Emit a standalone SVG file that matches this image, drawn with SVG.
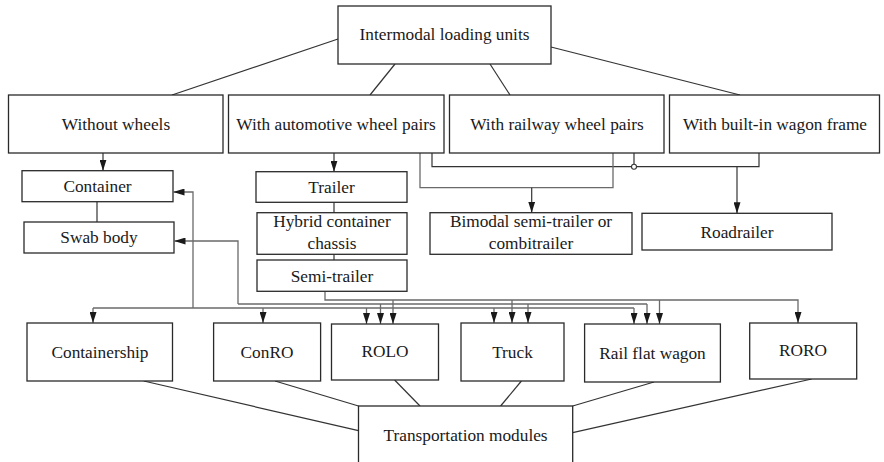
<svg xmlns="http://www.w3.org/2000/svg" width="884" height="462" viewBox="0 0 884 462">
<style>
  .box { fill: #ffffff; stroke: #2a2a2a; stroke-width: 1.3; }
  .t { font-family: "Liberation Serif", "Times New Roman", serif; font-size: 17.3px; fill: #1a1a1a; text-anchor: middle; }
  .ln { fill: none; stroke: #333333; stroke-width: 1.2; }
  .bus { fill: none; stroke: #6a6a6a; stroke-width: 1.3; }
</style>
<defs>
  <marker id="arr" viewBox="0 0 11 7" refX="11" refY="3.5" markerWidth="11" markerHeight="7" markerUnits="userSpaceOnUse" orient="auto">
    <path d="M0,0 L11,3.5 L0,7 z" fill="#1a1a1a"/>
  </marker>
</defs>
<rect width="884" height="462" fill="#ffffff"/>

<g id="connectors">
  <!-- top box to second row -->
  <path class="ln" d="M338,39 L172,95"/>
  <path class="ln" d="M395,64 L370,95"/>
  <path class="ln" d="M490,64 L510,95"/>
  <path class="ln" d="M551,47 L740,95"/>
  <!-- without wheels branch -->
  <path class="ln" d="M103,153 V170.7" marker-end="url(#arr)"/>
  <path class="ln" d="M97,201.7 V222"/>
  <!-- automotive branch -->
  <path class="ln" d="M334,153 V171.7" marker-end="url(#arr)"/>
  <path class="ln" d="M334,202.3 V212.7"/>
  <path class="ln" d="M334,254.3 V260"/>
  <!-- roadrailer links -->
  <path class="ln" d="M432,153 V166.7 H759 V153"/>
  <path class="ln" d="M634,153 V164.2"/>
  <circle cx="634" cy="166.7" r="2.5" fill="#ffffff" stroke="#333333" stroke-width="1.1"/>
  <path class="ln" d="M737,166.7 V213.3" marker-end="url(#arr)"/>
  <!-- bimodal links -->
  <path class="bus" d="M420,153 V187.7 H613 V153"/>
  <path class="ln" d="M531.7,187.7 V212.7" marker-end="url(#arr)"/>
  <!-- container bus -->
  <path class="bus" d="M193,308 V192 H173.5" marker-end="url(#arr)"/>
  <path class="bus" d="M93,308 H634"/>
  <path class="bus" d="M93,308 V323" marker-end="url(#arr)"/>
  <path class="bus" d="M263,308 V323" marker-end="url(#arr)"/>
  <path class="bus" d="M366.5,308 V324" marker-end="url(#arr)"/>
  <path class="bus" d="M494,308 V323" marker-end="url(#arr)"/>
  <path class="bus" d="M634,308 V324" marker-end="url(#arr)"/>
  <!-- swab body bus -->
  <path class="bus" d="M238,304 V241 H174.5" marker-end="url(#arr)"/>
  <path class="bus" d="M238,304 H647"/>
  <path class="bus" d="M380.5,304 V324" marker-end="url(#arr)"/>
  <path class="bus" d="M528,304 V323" marker-end="url(#arr)"/>
  <path class="bus" d="M647,304 V324" marker-end="url(#arr)"/>
  <!-- semi-trailer bus -->
  <path class="bus" d="M325,291.3 V300 H798 V323" marker-end="url(#arr)"/>
  <path class="bus" d="M393,300 V324" marker-end="url(#arr)"/>
  <path class="bus" d="M512,300 V323" marker-end="url(#arr)"/>
  <path class="bus" d="M659.5,300 V324" marker-end="url(#arr)"/>
  <!-- bottom row to transportation modules -->
  <path class="ln" d="M143.7,381 L358.5,430.7"/>
  <path class="ln" d="M275,381 L358.5,406"/>
  <path class="ln" d="M394.6,380 L420,406"/>
  <path class="ln" d="M521.4,381 L500.6,406"/>
  <path class="ln" d="M654,382 L572.7,406"/>
  <path class="ln" d="M811.7,379 L572.7,432.7"/>
</g>

<g id="intermodal"><rect class="box" x="338" y="6" width="213" height="58"/><text class="t" x="444.5" y="40">Intermodal loading units</text></g>

<g id="without-wheels"><rect class="box" x="8.5" y="95" width="214.5" height="58"/><text class="t" x="116" y="130">Without wheels</text></g>
<g id="automotive"><rect class="box" x="228.5" y="95" width="215.5" height="58"/><text class="t" x="336" y="130">With automotive wheel pairs</text></g>
<g id="railway"><rect class="box" x="449.5" y="95" width="214.5" height="58"/><text class="t" x="557" y="130">With railway wheel pairs</text></g>
<g id="wagon-frame"><rect class="box" x="669.5" y="95" width="210" height="58"/><text class="t" x="775" y="130">With built-in wagon frame</text></g>

<g id="container"><rect class="box" x="22" y="170.7" width="151" height="31"/><text class="t" x="97.5" y="192">Container</text></g>
<g id="swab-body"><rect class="box" x="24" y="222" width="150" height="31"/><text class="t" x="99" y="243">Swab body</text></g>

<g id="trailer"><rect class="box" x="256" y="171.7" width="151" height="30.6"/><text class="t" x="331.5" y="193">Trailer</text></g>
<g id="hybrid"><rect class="box" x="257" y="212.7" width="150" height="41.6"/><text class="t" x="332" y="227">Hybrid container</text><text class="t" x="332" y="248.5">chassis</text></g>
<g id="semi-trailer"><rect class="box" x="257" y="260" width="150" height="31.3"/><text class="t" x="332" y="281.5">Semi-trailer</text></g>

<g id="bimodal"><rect class="box" x="430" y="212.7" width="202" height="41.6"/><text class="t" x="531" y="227">Bimodal semi-trailer or</text><text class="t" x="531" y="248.5">combitrailer</text></g>
<g id="roadrailer"><rect class="box" x="642" y="213.3" width="190" height="36.7"/><text class="t" x="737" y="237.5">Roadrailer</text></g>

<g id="containership"><rect class="box" x="27" y="323" width="145.5" height="58"/><text class="t" x="100" y="357.5">Containership</text></g>
<g id="conro"><rect class="box" x="213.6" y="323" width="107" height="58"/><text class="t" x="267" y="357.5">ConRO</text></g>
<g id="rolo"><rect class="box" x="331.5" y="324" width="107" height="56"/><text class="t" x="385" y="357">ROLO</text></g>
<g id="truck"><rect class="box" x="461" y="323" width="103" height="58"/><text class="t" x="512.5" y="357.5">Truck</text></g>
<g id="rail-flat-wagon"><rect class="box" x="584.6" y="324" width="135.8" height="58"/><text class="t" x="652.5" y="358.5">Rail flat wagon</text></g>
<g id="roro"><rect class="box" x="749.7" y="323" width="107" height="56"/><text class="t" x="803" y="356">RORO</text></g>

<g id="transportation-modules"><rect class="box" x="358.5" y="406" width="214.2" height="70"/><text class="t" x="465.6" y="441">Transportation modules</text></g>
</svg>
